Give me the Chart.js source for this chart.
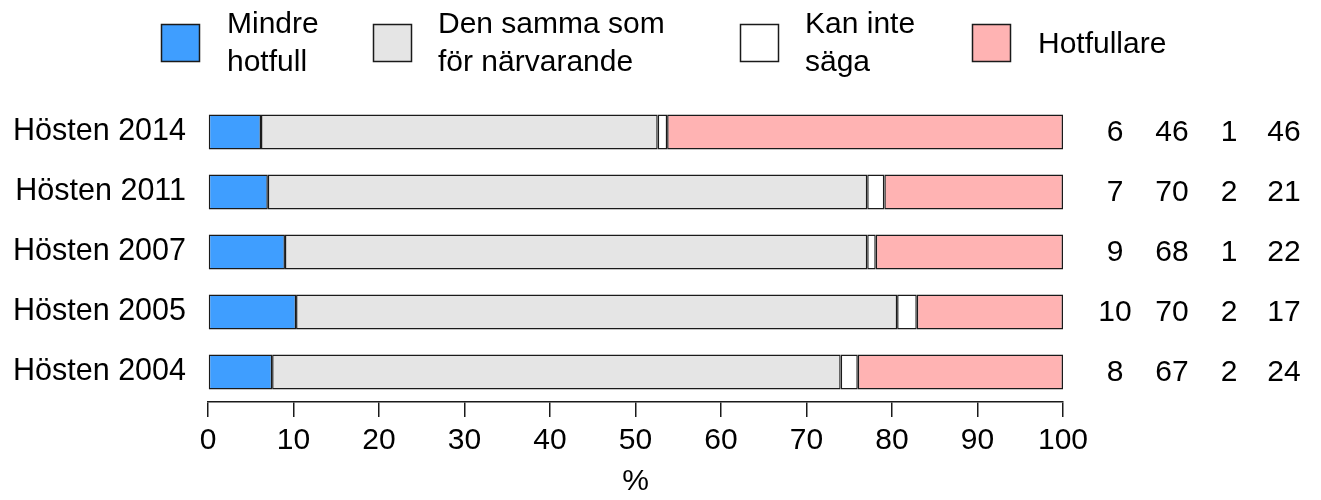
<!DOCTYPE html>
<html>
<head>
<meta charset="utf-8">
<script src="https://cdn.jsdelivr.net/npm/chart.js@4.4.1/dist/chart.umd.min.js"></script>
<style>
  html, body { margin: 0; padding: 0; background: #fff; }
  canvas { display: block; }
</style>
</head>
<body>
<canvas id="c" width="1321" height="500"></canvas>
<script>
// ---- Data ----
const categories = ['Hösten 2014', 'Hösten 2011', 'Hösten 2007', 'Hösten 2005', 'Hösten 2004'];
const seriesNames = [['Mindre', 'hotfull'], ['Den samma som', 'för närvarande'], ['Kan inte', 'säga'], ['Hotfullare']];
const mindreHotfull = [6.2, 7.0, 9.0, 10.3, 7.5];
const denSamma = [46.4, 70.1, 68.1, 70.3, 66.5];
const kanInteSaga = [1.1, 2.0, 1.0, 2.3, 2.0];
const hotfullare = [46.3, 20.9, 21.9, 17.1, 24.0];
const lblMindre = [6, 7, 9, 10, 8];
const lblSamma = [46, 70, 68, 70, 67];
const lblKan = [1, 2, 1, 2, 2];
const lblHot = [46, 21, 22, 17, 24];
const xTicks = [0, 10, 20, 30, 40, 50, 60, 70, 80, 90, 100];

const colors = ['#3F9EFF', '#E5E5E5', '#FFFFFF', '#FFB3B3'];
const FONT = '"Liberation Sans", Arial, Helvetica, sans-serif';

const seriesData = [mindreHotfull, denSamma, kanInteSaga, hotfullare];
const labelCols = [lblMindre, lblSamma, lblKan, lblHot];

const datasets = seriesData.map((d, i) => ({
  label: seriesNames[i].join(' '),
  data: d,
  backgroundColor: colors[i],
  borderColor: '#1a1a1a',
  borderWidth: 1.5,
  borderSkipped: false,
  categoryPercentage: 1,
  barPercentage: 35 / 60
}));

const extras = {
  id: 'extras',
  afterDraw(chart) {
    const ctx = chart.ctx;
    const area = chart.chartArea;
    const y = chart.scales.y;
    ctx.save();
    ctx.fillStyle = '#000';
    ctx.font = '30px ' + FONT;
    // value columns at the right
    ctx.textAlign = 'center';
    ctx.textBaseline = 'middle';
    const colOffsets = [52, 109, 166, 221];
    categories.forEach((c, i) => {
      const py = y.getPixelForValue(i);
      labelCols.forEach((col, j) => {
        ctx.fillText(String(col[i]), area.right + colOffsets[j], py + 1);
      });
    });
    // legend
    const boxes = [161, 373, 740, 972];
    const texts = [227, 438, 805, 1038];
    ctx.textAlign = 'left';
    ctx.textBaseline = 'alphabetic';
    seriesNames.forEach((name, i) => {
      ctx.fillStyle = colors[i];
      ctx.fillRect(boxes[i], 24, 39, 38);
      ctx.strokeStyle = '#1a1a1a';
      ctx.lineWidth = 1.5;
      ctx.strokeRect(boxes[i] + 0.5, 24.5, 38, 37);
      ctx.fillStyle = '#000';
      if (name.length === 2) {
        ctx.fillText(name[0], texts[i], 33);
        ctx.fillText(name[1], texts[i], 71);
      } else {
        ctx.fillText(name[0], texts[i], 53);
      }
    });
    ctx.restore();
  }
};

new Chart(document.getElementById('c'), {
  type: 'bar',
  data: { labels: categories, datasets },
  options: {
    indexAxis: 'y',
    responsive: false,
    animation: false,
    devicePixelRatio: 1,
    layout: { padding: { top: 102, right: 258, left: 0, bottom: 0 } },
    plugins: { legend: { display: false }, tooltip: { enabled: false } },
    scales: {
      x: {
        stacked: true,
        min: 0,
        max: 100,
        afterBuildTicks: (s) => { s.ticks = xTicks.map(v => ({ value: v })); },
        afterFit: (s) => { s.height = 98; },
        ticks: { color: '#000', font: { size: 30, family: FONT }, padding: 6, maxRotation: 0, autoSkip: false },
        grid: { display: true, drawOnChartArea: false, drawTicks: true, tickLength: 15, color: '#1a1a1a', lineWidth: 1.5 },
        border: { display: true, color: '#1a1a1a', width: 1.5 },
        title: { display: true, text: '%', color: '#000', font: { size: 30, family: FONT }, padding: { top: 0, bottom: 0 } }
      },
      y: {
        stacked: true,
        afterFit: (s) => { s.width = 208; },
        ticks: { color: '#000', font: { size: 30.5, family: FONT }, padding: 14 },
        grid: { display: false },
        border: { display: false }
      }
    }
  },
  plugins: [extras]
});
</script>
</body>
</html>
